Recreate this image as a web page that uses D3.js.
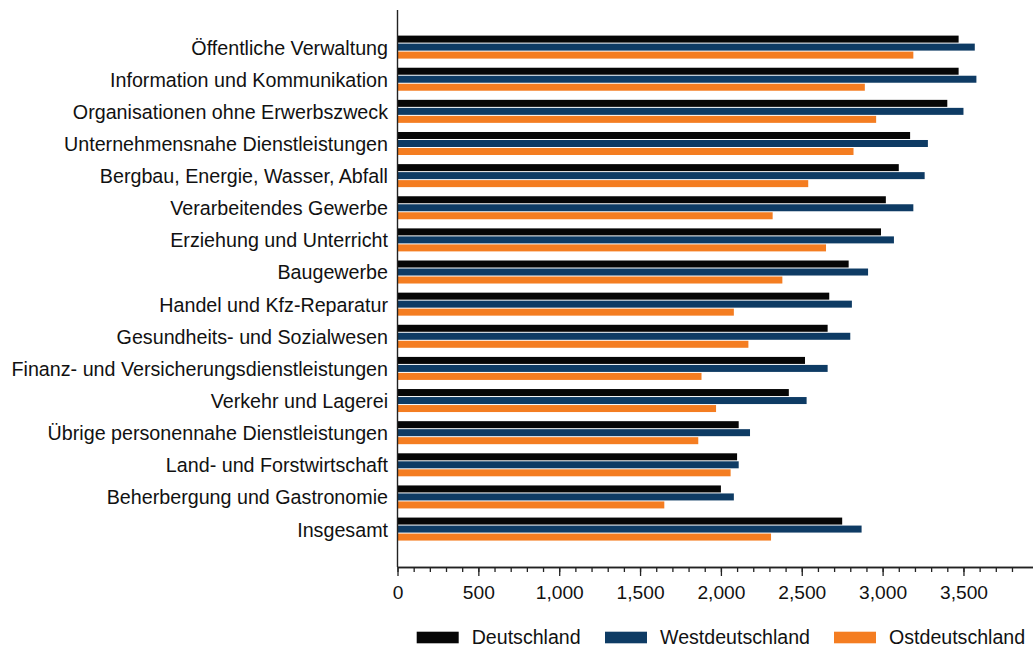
<!DOCTYPE html>
<html><head><meta charset="utf-8">
<script src="https://cdn.jsdelivr.net/npm/d3@7"></script>
<style>
html,body{margin:0;padding:0;background:#fff;}
svg{display:block;font-family:"Liberation Sans",Arial,Helvetica,sans-serif;}
</style></head>
<body><svg id="c" width="1033" height="648"></svg>
<script>
const categories = [
  "Öffentliche Verwaltung",
  "Information und Kommunikation",
  "Organisationen ohne Erwerbszweck",
  "Unternehmensnahe Dienstleistungen",
  "Bergbau, Energie, Wasser, Abfall",
  "Verarbeitendes Gewerbe",
  "Erziehung und Unterricht",
  "Baugewerbe",
  "Handel und Kfz-Reparatur",
  "Gesundheits- und Sozialwesen",
  "Finanz- und Versicherungsdienstleistungen",
  "Verkehr und Lagerei",
  "Übrige personennahe Dienstleistungen",
  "Land- und Forstwirtschaft",
  "Beherbergung und Gastronomie",
  "Insgesamt"
];
const seriesNames = ["Deutschland", "Westdeutschland", "Ostdeutschland"];
const deutschland     = [3470, 3470, 3400, 3170, 3100, 3020, 2990, 2790, 2670, 2660, 2520, 2420, 2110, 2100, 2000, 2750];
const westdeutschland = [3570, 3580, 3500, 3280, 3260, 3190, 3070, 2910, 2810, 2800, 2660, 2530, 2180, 2110, 2080, 2870];
const ostdeutschland  = [3190, 2890, 2960, 2820, 2540, 2320, 2650, 2380, 2080, 2170, 1880, 1970, 1860, 2060, 1650, 2310];
const majorTicks = [0, 500, 1000, 1500, 2000, 2500, 3000, 3500];
const tickLabels = ["0", "500", "1,000", "1,500", "2,000", "2,500", "3,000", "3,500"];
const minorTicks = d3.range(0, 3801, 100);
const colors = ["#060606", "#0e3b64", "#f47d21"];

const seriesValues = [deutschland, westdeutschland, ostdeutschland];
const svg = d3.select("#c");
const FONT = 19.7;

const x = d3.scaleLinear().domain([0, 3930]).range([397.5, 1033]);
const y = d3.scaleBand().domain(categories).range([31.2, 545.3]).padding(0);
const inner = d3.scaleBand().domain(seriesNames).range([4.4, 28.4]).padding(0);

// bars
const rows = svg.append("g").selectAll("g").data(categories).join("g")
  .attr("transform", d => `translate(0,${y(d)})`);
rows.selectAll("rect")
  .data((c, i) => seriesNames.map((s, k) => ({s, v: seriesValues[k][i], k})))
  .join("rect")
  .attr("x", x(0))
  .attr("y", d => inner(d.s))
  .attr("width", d => x(d.v) - x(0))
  .attr("height", inner.bandwidth() - 1)
  .attr("fill", d => colors[d.k]);

// category labels
svg.append("g").selectAll("text").data(categories).join("text")
  .attr("x", 388)
  .attr("y", d => y(d) + y.bandwidth() / 2 + 7.3)
  .attr("text-anchor", "end")
  .attr("font-size", FONT)
  .attr("fill", "#111")
  .text(d => d);

// y axis line
svg.append("line")
  .attr("x1", x(0)).attr("x2", x(0))
  .attr("y1", 10).attr("y2", 567)
  .attr("stroke", "#222").attr("stroke-width", 1.4);

// x axis
const axisY = 567;
const gMinor = svg.append("g").attr("transform", `translate(0,${axisY})`)
  .call(d3.axisBottom(x).tickValues(minorTicks).tickSize(5).tickSizeOuter(0).tickFormat(""));
const gMajor = svg.append("g").attr("transform", `translate(0,${axisY})`)
  .call(d3.axisBottom(x).tickValues(majorTicks).tickSize(9).tickSizeOuter(0)
    .tickFormat((d, i) => tickLabels[i]));
[gMinor, gMajor].forEach(g => {
  g.select(".domain").attr("stroke", "#222").attr("stroke-width", 1.4);
  g.selectAll(".tick line").attr("stroke", "#222").attr("stroke-width", 1.3);
});
gMajor.selectAll(".tick text")
  .attr("font-size", 19.2)
  .attr("font-family", "Liberation Sans, Arial, sans-serif")
  .attr("fill", "#111")
  .attr("y", 0).attr("dy", 0)
  .attr("transform", "translate(0,32)");

// legend
const legendX = [416.7, 605, 834];
const lg = svg.append("g").selectAll("g").data(seriesNames).join("g")
  .attr("transform", (d, i) => `translate(${legendX[i]},631.7)`);
lg.append("rect").attr("width", 42).attr("height", 11.6).attr("fill", (d, i) => colors[i]);
lg.append("text").attr("x", 55).attr("y", 12).attr("font-size", 19.6)
  .attr("fill", "#111").text(d => d);
</script>
</body></html>
